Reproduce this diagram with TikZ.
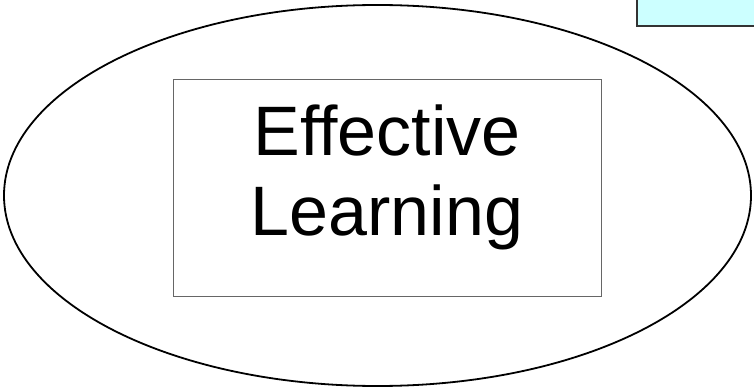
\documentclass[tikz,border=0pt]{standalone}
\usepackage{fontspec}
\setmainfont{Liberation Sans}
\usepackage{xcolor}
\usetikzlibrary{shapes.geometric}

\definecolor{notecyan}{HTML}{CCFFFF}
\definecolor{notedraw}{HTML}{333333}
\definecolor{boxdraw}{HTML}{666666}

\begin{document}
\begin{tikzpicture}[x=1pt, y=-1pt]
    \tikzstyle{ring} = [ellipse, draw=black, line width=1.8pt, inner sep=0pt, minimum width=747pt, minimum height=381pt]
    \tikzstyle{goalbox} = [rectangle, draw=boxdraw, line width=1pt, inner sep=0pt, minimum width=428pt, minimum height=217pt]
    \tikzstyle{goaltext} = [align=center, inner sep=0pt, font=\fontsize{70}{80}\selectfont]
    \tikzstyle{notebox} = [rectangle, draw=notedraw, fill=notecyan, line width=2.4pt, inner sep=0pt, minimum width=160pt, minimum height=80pt]

    % Frame
    \useasboundingbox (0,0) rectangle (754,390);
    \clip (0,0) rectangle (754,390);

    % Outer ellipse
    \node[ring] (ring) at (377.5,195.5) {};

    % Inner box and its text
    \node[goalbox] (goal) at (387,188) {};
    \node[goaltext] (goallabel) at (387,177) {Effective\\Learning};

    % Cut-off box at the top right
    \node[notebox, anchor=south west] (note) at (636,27) {};
\end{tikzpicture}
\end{document}
